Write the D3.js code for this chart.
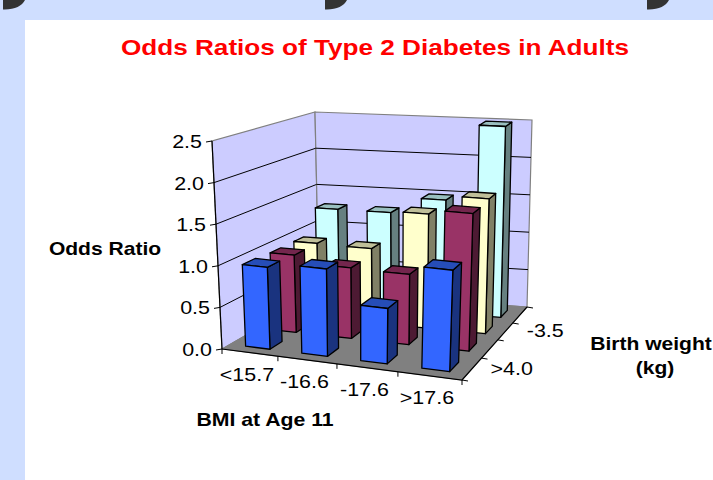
<!DOCTYPE html>
<html><head><meta charset="utf-8">
<script src="https://cdn.jsdelivr.net/npm/d3@7"></script>
<style>html,body{margin:0;padding:0;background:#fff;overflow:hidden}svg{display:block}text{font-family:"Liberation Sans",Arial,sans-serif}</style>
</head><body><svg id="c" width="713" height="480"></svg>
<script>
const categories = ["<15.7","-16.6","-17.6",">17.6"];
const seriesNames = [">4.0","-4.0","-3.5","<3.0"];
const depthLabels = [">4.0","","-3.5",""];
const blue   = [0.99,1.05,0.66,1.20];
const maroon = [0.97,0.88,0.87,1.69];
const yellow = [0.97,0.96,1.46,1.71];
const cyan   = [1.28,1.28,1.49,2.50];
const seriesValues = [blue,maroon,yellow,cyan];
const faceColors = ["#3366ff","#993366","#ffffcc","#ccffff"];
const sideColors = ["#1a337f","#4d1a33","#808066","#668080"];
const topColors  = ["#264db8","#73264d","#bfbf99","#99bfbf"];
const yTicks = [0,0.5,1,1.5,2,2.5];
const svg = d3.select("#c");

const bilinear = ([a,b,c,d]) => (u,v) => [0,1].map(k =>
  (a[k]*(1-u)+b[k]*u)*(1-v)+(d[k]*(1-u)+c[k]*u)*v);
const floorQ = bilinear([[222,349],[462,380],[527,307],[319,293]]);
const topQ   = bilinear([[212,141],[470,166],[532,120],[315,112]]);
const y = d3.scaleLinear().domain([0,2.5]).range([0,1]);
const uWarp = d3.scaleLinear().domain([0,.25,.5,.75,1]).range([0,.233,.479,.733,1]);
const vWarp = d3.scaleLinear().domain([0,.25,.5,.75,1]).range([0,.30,.55,.78,1]);
const uScale = d3.scaleBand().domain(categories).range([0,1]).paddingInner(.56).paddingOuter(.28);
const vScale = d3.scaleBand().domain(seriesNames).range([0,1]).paddingInner(.56).paddingOuter(.28);
function project(u,v,val){
  const U=uWarp(u),V=vWarp(v),a=floorQ(U,V),b=topQ(U,V),t=y(val);
  return [a[0]+(b[0]-a[0])*t,a[1]+(b[1]-a[1])*t];
}
const line = d3.line();
const poly = pts => line(pts)+"Z";
const put = (t,x,yy,size,sx,anchor,bold,fill) => svg.append("text")
  .attr("transform",`translate(${x},${yy}) scale(${sx},1)`)
  .attr("text-anchor",anchor).attr("font-size",size)
  .attr("font-weight",bold?"bold":"normal").attr("fill",fill||"#000").text(t);

// page backdrop
svg.append("rect").attr("width",713).attr("height",480).attr("fill","#cfdeff");
svg.append("rect").attr("x",25).attr("y",20).attr("width",688).attr("height",460).attr("fill","#fff");
[3,325,647].forEach(x=>svg.append("path")
  .attr("d",`M${x},0V9.5C${x+11},10 ${x+19},6 ${x+22},0Z`).attr("fill","#333"));

put("Odds Ratios of Type 2 Diabetes in Adults",375,54.5,21.3,1.227,"middle",true,"#ff0000");

// walls and floor
const wall = (f)=>svg.append("path").attr("d",poly(f)).attr("fill","#ccccff").attr("stroke","#808080").attr("stroke-width",1.2);
wall([project(0,0,0),project(0,1,0),project(0,1,2.5),project(0,0,2.5)]);
wall([project(0,1,0),project(1,1,0),project(1,1,2.5),project(0,1,2.5)]);
svg.append("path").attr("d",poly([project(0,0,0),project(1,0,0),project(1,1,0),project(0,1,0)]))
  .attr("fill","#808080").attr("stroke","#808080");

// gridlines
yTicks.filter(d=>d>0&&d<2.5).forEach(d=>{
  svg.append("path").attr("fill","none").attr("stroke","#000").attr("stroke-width",1)
    .attr("d",line([project(0,0,d),project(0,1,d),project(1,1,d)]));
});

// y axis
svg.append("path").attr("stroke","#000").attr("stroke-width",1.2).attr("fill","none")
  .attr("d",line([project(0,0,0),project(0,0,2.5)]));
const fmt = d3.format(".1f");
yTicks.forEach(d=>{
  const p=project(0,0,d);
  svg.append("path").attr("stroke","#000").attr("d",line([[p[0]-6,p[1]+1],p]));
  put(fmt(d),p[0]-10,p[1]+7,19,1.13,"end");
});

// bars, back row first
for(let s=seriesNames.length-1;s>=0;s--){
  categories.forEach((c,i)=>{
    const u0=uScale(c),u1=u0+uScale.bandwidth(),v0=vScale(seriesNames[s]),v1=v0+vScale.bandwidth(),val=seriesValues[s][i];
    const add=(pts,fill)=>svg.append("path").attr("d",poly(pts)).attr("fill",fill)
      .attr("stroke","#000").attr("stroke-width",1.3).attr("stroke-linejoin","round");
    add([project(u1,v0,0),project(u1,v1,0),project(u1,v1,val),project(u1,v0,val)],sideColors[s]);
    add([project(u0,v0,val),project(u1,v0,val),project(u1,v1,val),project(u0,v1,val)],topColors[s]);
    add([project(u0,v0,0),project(u1,v0,0),project(u1,v0,val),project(u0,v0,val)],faceColors[s]);
  });
}

// floor edge axes
svg.append("path").attr("stroke","#000").attr("stroke-width",1.2).attr("fill","none")
  .attr("d",line([project(0,0,0),project(1,0,0),project(1,1,0)]));
d3.range(0,1.001,.25).forEach(t=>{
  const p=project(t,0,0),q=project(1,t,0);
  svg.append("path").attr("stroke","#000").attr("d",line([p,[p[0],p[1]+5]]));
  svg.append("path").attr("stroke","#000").attr("d",line([q,[q[0]+6,q[1]+1]]));
});
categories.forEach(c=>{
  const p=project(uScale(c)+uScale.bandwidth()/2,0,0);
  put(c,p[0]-3,p[1]+28,19,1.13,"middle");
});
depthLabels.forEach((c,i)=>{
  if(!c) return;
  const p=project(1,vScale(seriesNames[i])+vScale.bandwidth()/2,0);
  put(c,p[0]+40,p[1]+6,19,1.13,"middle");
});

// axis titles
put("Odds Ratio",105,255,18,1.17,"middle",true);
put("BMI at Age 11",265,426,18,1.18,"middle",true);
put("Birth weight",651,350,18,1.17,"middle",true);
put("(kg)",655,374,18,1.17,"middle",true);
</script></body></html>
